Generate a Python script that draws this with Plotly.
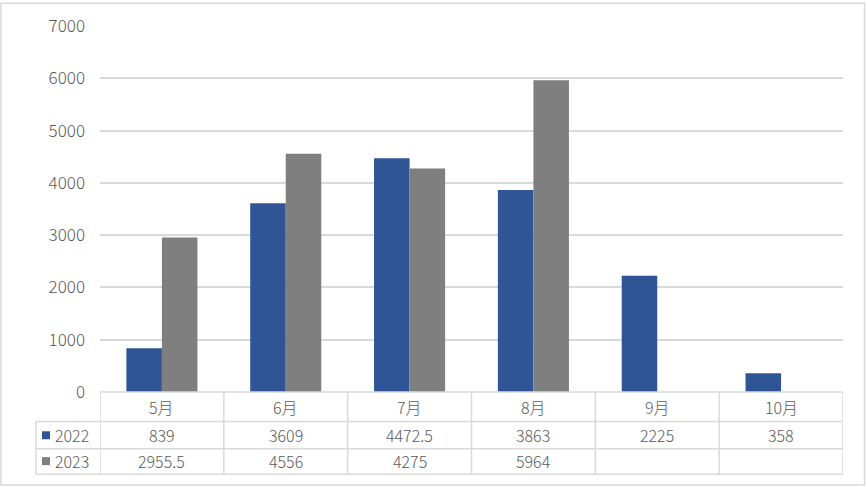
import plotly.graph_objects as go

categories = ["5月", "6月", "7月", "8月", "9月", "10月"]
series_names = ["2022", "2023"]
values_2022 = [839, 3609, 4472.5, 3863, 2225, 358]
values_2023 = [2955.5, 4556, 4275, 5964, None, None]
table_text_2022 = ["839", "3609", "4472.5", "3863", "2225", "358"]
table_text_2023 = ["2955.5", "4556", "4275", "5964", "", ""]
y_ticks = [0, 1000, 2000, 3000, 4000, 5000, 6000, 7000]

W, H = 867, 487
L, R, T, B = 100, 24, 24, 95
pw, ph = W - L - R, H - T - B

def px(x):
    return (x - L) / pw

def py(y):
    return (H - B - y) / ph

colors = ["#2F5597", "#7F7F7F"]
grid = "#D9D9D9"
txt = "#595959"
font_family = "Noto Sans CJK SC, DejaVu Sans, sans-serif"

fig = go.Figure()
fig.add_trace(go.Bar(x=list(range(len(categories))), y=values_2022, name=series_names[0],
                     marker=dict(color=colors[0], line=dict(width=0))))
fig.add_trace(go.Bar(x=list(range(len(categories))), y=values_2023, name=series_names[1],
                     marker=dict(color=colors[1], line=dict(width=0))))

shapes = []
annotations = []
n = len(categories)
# outer border
shapes.append(dict(type="rect", xref="paper", yref="paper",
                   x0=px(1), x1=px(864.5), y0=py(485.5), y1=py(1),
                   line=dict(color=grid, width=1.5), fillcolor="rgba(0,0,0,0)", layer="below"))
row_lines = [392, 421.7, 449, 474.7]
for i, yy in enumerate(row_lines):
    if i == 0:
        shapes.append(dict(type="line", xref="x", yref="paper", x0=-0.5, x1=n - 0.5,
                           y0=py(yy), y1=py(yy), line=dict(color=grid, width=1.5)))
    else:
        shapes.append(dict(type="line", xref="paper", yref="paper", x0=px(36), x1=1,
                           y0=py(yy), y1=py(yy), line=dict(color=grid, width=1.5)))
for k in range(n + 1):
    shapes.append(dict(type="line", xref="x", yref="paper", x0=k - 0.5, x1=k - 0.5,
                       y0=py(392), y1=py(474.7), line=dict(color=grid, width=1.5)))
shapes.append(dict(type="line", xref="paper", yref="paper", x0=px(36), x1=px(36),
                   y0=py(421.7), y1=py(474.7), line=dict(color=grid, width=1.5)))

row_y = [407, 435.5, 461.5]
fnt = dict(size=16, color=txt, family=font_family, weight=300)
for i, c in enumerate(categories):
    for r, t in enumerate([c, table_text_2022[i], table_text_2023[i]]):
        annotations.append(dict(x=i, y=py(row_y[r]), xref="x", yref="paper", text=t,
                                xanchor="center", yanchor="middle",
                                showarrow=False, font=fnt))
for j, name in enumerate(series_names):
    yc = row_y[j + 1]
    shapes.append(dict(type="rect", xref="paper", yref="paper",
                       x0=px(42), x1=px(50), y0=py(yc + 4), y1=py(yc - 4),
                       fillcolor=colors[j], line=dict(width=0)))
    annotations.append(dict(x=px(53), y=py(yc), xref="paper", yref="paper", text=name,
                            xanchor="left", yanchor="middle", showarrow=False, font=fnt))

fig.update_layout(
    width=W, height=H,
    margin=dict(l=L, r=R, t=T, b=B),
    paper_bgcolor="white", plot_bgcolor="white",
    barmode="group", bargap=0.426, bargroupgap=0,
    showlegend=False,
    xaxis=dict(range=[-0.5, n - 0.5], showticklabels=False, showgrid=False,
               zeroline=False, ticks=""),
    yaxis=dict(range=[0, 7000], tickvals=y_ticks, showgrid=True, gridcolor=grid, gridwidth=1.5,
               zeroline=False, ticks="", ticklabelstandoff=14,
               tickfont=dict(size=17, color=txt, family=font_family, weight=300)),
    shapes=shapes, annotations=annotations,
    font=dict(family=font_family, color=txt),
)

fig.write_html("out.html", config={"displayModeBar": False},
               post_script="document.body.style.margin='0';document.body.style.overflow='hidden';")
